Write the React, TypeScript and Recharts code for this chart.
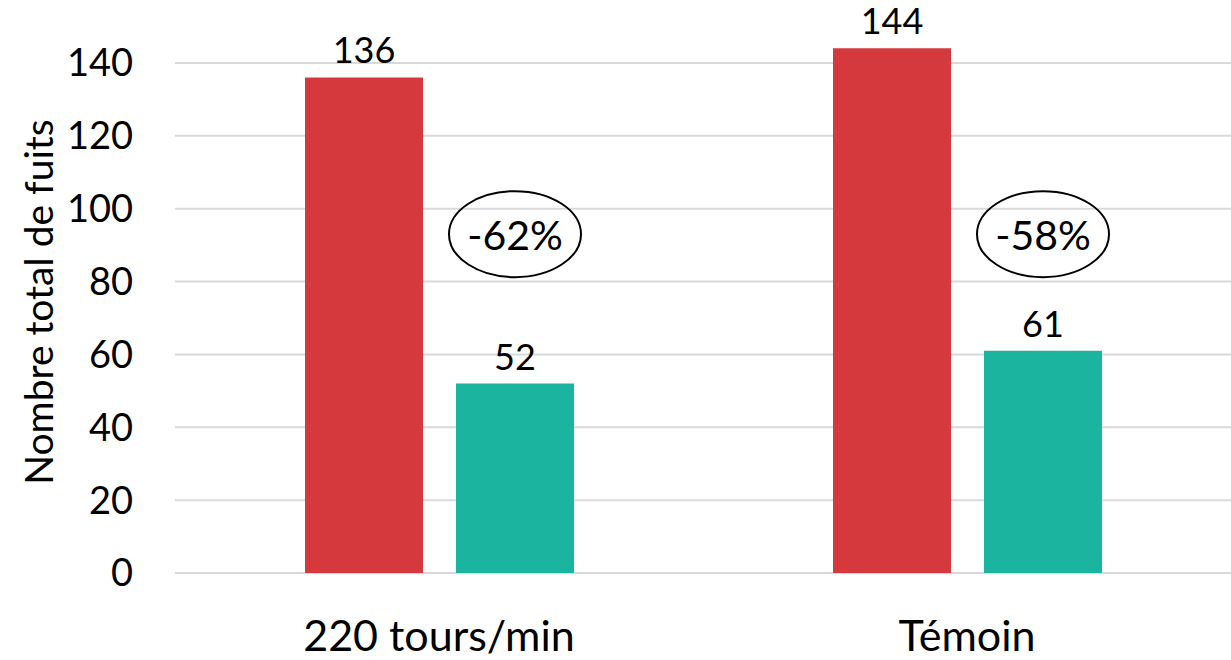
import React from "react";
import { BarChart, Bar, XAxis, YAxis, CartesianGrid, LabelList } from "recharts";

const categories = ["220 tours/min", "Témoin"];
const beforeValues = [136, 144];
const afterValues = [52, 61];
const reductions = ["-62%", "-58%"];
const yTicks = [0, 20, 40, 60, 80, 100, 120, 140];
const reductionLevel = 93; // where the ellipse sits, in axis units

const data = categories.map((name, i) => ({
  name,
  before: beforeValues[i],
  after: afterValues[i],
  reduction: reductions[i],
}));

const FONT = "Lato, 'Open Sans', sans-serif";

// ellipse with the % drop, placed above the green bar using the bar's own scale
const ReductionBadge = (props: any) => {
  const { x, y, width, height, value, index } = props;
  const v = afterValues[index ?? 0];
  const perUnit = height / v;
  const cx = x + width / 2;
  const cy = y + height - reductionLevel * perUnit;
  return (
    <g>
      <ellipse cx={cx} cy={cy} rx={66} ry={43} fill="none" stroke="#000" strokeWidth={2} />
      <text
        x={cx}
        y={cy}
        textAnchor="middle"
        dominantBaseline="central"
        fontFamily={FONT}
        fontSize={41}
        fill="#000"
      >
        {value}
      </text>
    </g>
  );
};

const YLabel = () => {
  const cy = 302;
  return (
    <text
      x={38}
      y={cy}
      transform={`rotate(-90, 38, ${cy})`}
      textAnchor="middle"
      dominantBaseline="central"
      fontFamily={FONT}
      fontSize={39}
      fill="#000"
    >
      Nombre total de fuits
    </text>
  );
};

export default function App() {
  return (
    <div style={{ width: 1231, height: 660, background: "#fff", overflow: "hidden" }}>
      <style>{"body{margin:0}"}</style>
      <BarChart
        width={1231}
        height={660}
        data={data}
        margin={{ top: -10, right: 0, left: 0, bottom: 0 }}
        barSize={118}
        barGap={33}
      >
        <CartesianGrid vertical={false} stroke="#d9d9d9" strokeWidth={2} />
        <XAxis
          dataKey="name"
          axisLine={false}
          tickLine={false}
          tickSize={0}
          tickMargin={47}
          height={87}
          tick={{ fontFamily: FONT, fontSize: 43, fill: "#000" }}
        />
        <YAxis
          domain={[0, 160]}
          ticks={yTicks}
          axisLine={false}
          tickLine={false}
          tickSize={0}
          tickMargin={42}
          width={175}
          tick={{ fontFamily: FONT, fontSize: 38, fill: "#000" }}
          label={<YLabel />}
        />
        <Bar dataKey="before" fill="#D5393E" isAnimationActive={false}>
          <LabelList
            dataKey="before"
            position="top"
            offset={14}
            fill="#000"
            fontFamily={FONT}
            fontSize={36}
          />
        </Bar>
        <Bar dataKey="after" fill="#1BB49F" isAnimationActive={false}>
          <LabelList
            dataKey="after"
            position="top"
            offset={14}
            fill="#000"
            fontFamily={FONT}
            fontSize={36}
          />
          <LabelList dataKey="reduction" content={<ReductionBadge />} />
        </Bar>
      </BarChart>
    </div>
  );
}
